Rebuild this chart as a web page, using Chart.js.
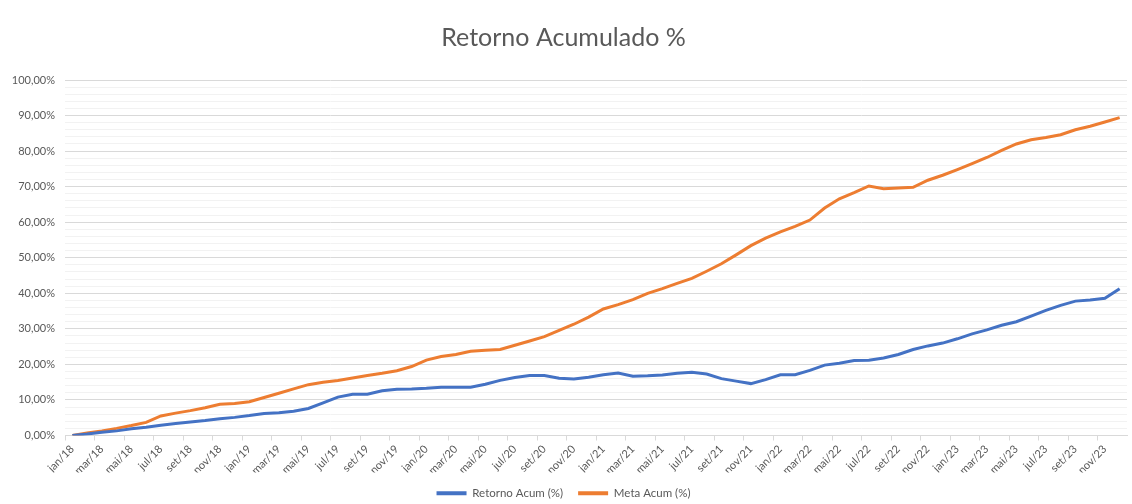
<!DOCTYPE html>
<html>
<head>
<meta charset="utf-8">
<title>Retorno Acumulado %</title>
<script src="https://cdn.jsdelivr.net/npm/chart.js@4/dist/chart.umd.min.js"></script>
<style>
	html, body { margin: 0; padding: 0; background: #fff; }
	#chart { display: block; }
</style>
</head>
<body>
<canvas id="chart" width="1132" height="504"></canvas>
<script>
// meses jan/18 .. dez/23
var meses = [
	'jan/18','fev/18','mar/18','abr/18','mai/18','jun/18','jul/18','ago/18','set/18','out/18','nov/18','dez/18',
	'jan/19','fev/19','mar/19','abr/19','mai/19','jun/19','jul/19','ago/19','set/19','out/19','nov/19','dez/19',
	'jan/20','fev/20','mar/20','abr/20','mai/20','jun/20','jul/20','ago/20','set/20','out/20','nov/20','dez/20',
	'jan/21','fev/21','mar/21','abr/21','mai/21','jun/21','jul/21','ago/21','set/21','out/21','nov/21','dez/21',
	'jan/22','fev/22','mar/22','abr/22','mai/22','jun/22','jul/22','ago/22','set/22','out/22','nov/22','dez/22',
	'jan/23','fev/23','mar/23','abr/23','mai/23','jun/23','jul/23','ago/23','set/23','out/23','nov/23','dez/23'
];

var retornoAcum = [
	0, 0.4, 0.9, 1.3, 1.9, 2.3, 2.9, 3.4, 3.8, 4.2, 4.7, 5.1,
	5.6, 6.2, 6.4, 6.8, 7.6, 9.2, 10.8, 11.6, 11.6, 12.6, 13.0, 13.1,
	13.3, 13.6, 13.6, 13.6, 14.4, 15.5, 16.3, 16.9, 16.9, 16.1, 15.9, 16.4,
	17.1, 17.6, 16.7, 16.8, 17.0, 17.5, 17.8, 17.3, 16.0, 15.3, 14.6, 15.7,
	17.1, 17.1, 18.3, 19.8, 20.3, 21.1, 21.2, 21.8, 22.8, 24.2, 25.2, 26.0,
	27.2, 28.6, 29.7, 31.0, 32.0, 33.6, 35.2, 36.6, 37.8, 38.1, 38.6, 41.3
];

var metaAcum = [
	0, 0.7, 1.3, 2.0, 2.8, 3.7, 5.5, 6.3, 7.0, 7.8, 8.8, 9.0,
	9.5, 10.7, 11.9, 13.1, 14.3, 15.0, 15.5, 16.2, 16.9, 17.5, 18.2, 19.4,
	21.2, 22.2, 22.8, 23.7, 24.0, 24.2, 25.4, 26.6, 27.8, 29.6, 31.3, 33.3,
	35.6, 36.8, 38.2, 40.0, 41.3, 42.8, 44.2, 46.2, 48.3, 50.8, 53.4, 55.5,
	57.3, 58.8, 60.6, 64.0, 66.6, 68.3, 70.2, 69.4, 69.6, 69.8, 71.8, 73.2,
	74.8, 76.5, 78.2, 80.2, 82.0, 83.2, 83.8, 84.6, 86.0, 87.0, 88.2, 89.4
];

var textColor = '#595959';
var fontFamily = 'Lato, Calibri, "Open Sans", sans-serif';

function pct(v){
	return v.toFixed(2).replace('.', ',') + '%';
}

var ctx = document.getElementById('chart').getContext('2d');
var chart = new Chart(ctx, {
	type: 'line',
	data: {
		labels: meses,
		datasets: [{
			label: 'Retorno Acum (%)',
			data: retornoAcum,
			borderColor: '#4472C4',
			backgroundColor: '#4472C4',
			borderWidth: 3,
			pointRadius: 0,
			tension: 0
		}, {
			label: 'Meta Acum (%)',
			data: metaAcum,
			borderColor: '#ED7D31',
			backgroundColor: '#ED7D31',
			borderWidth: 3,
			pointRadius: 0,
			tension: 0
		}]
	},
	options: {
		responsive: false,
		animation: false,
		layout: {
			padding: { left: 0, right: 5, top: 0, bottom: -5 }
		},
		plugins: {
			title: {
				display: true,
				text: 'Retorno Acumulado %',
				color: textColor,
				font: { family: fontFamily, size: 25, weight: 'normal' },
				padding: { top: 23, bottom: 27 }
			},
			legend: {
				position: 'bottom',
				labels: {
					color: textColor,
					font: { family: fontFamily, size: 11.5 },
					boxWidth: 30,
					boxHeight: 4,
					padding: 15,
					generateLabels: function(c){
						var items = Chart.defaults.plugins.legend.labels.generateLabels(c);
						items.forEach(function(it){ it.lineWidth = 0; });
						return items;
					}
				}
			},
			tooltip: { enabled: false }
		},
		scales: {
			x: {
				offset: true,
				// altura fixa pra bater com a area do grafico original
				afterFit: function(scale){ scale.height = 37; },
				grid: {
					offset: true,
					drawOnChartArea: false,
					tickLength: 5,
					color: function(c){ return c.index % 2 === 0 ? '#d9d9d9' : 'rgba(0,0,0,0)'; }
				},
				border: { color: '#d9d9d9' },
				ticks: {
					autoSkip: false,
					maxRotation: 45,
					minRotation: 45,
					padding: 2,
					color: textColor,
					font: { family: fontFamily, size: 11 },
					callback: function(value, index){
						return index % 2 === 0 ? this.getLabelForValue(value) : '';
					}
				}
			},
			y: {
				min: 0,
				max: 100,
				afterFit: function(scale){ scale.width = 65; },
				border: { display: false },
				grid: {
					drawTicks: false,
					color: function(c){ return c.tick && c.tick.value % 10 === 0 ? '#d9d9d9' : '#f2f2f2'; }
				},
				ticks: {
					stepSize: 2,
					maxTicksLimit: 60,
					autoSkip: false,
					padding: 10,
					color: textColor,
					font: { family: fontFamily, size: 11 },
					callback: function(v){ return v % 10 === 0 ? pct(v) : ''; }
				}
			}
		}
	}
});
</script>
</body>
</html>
